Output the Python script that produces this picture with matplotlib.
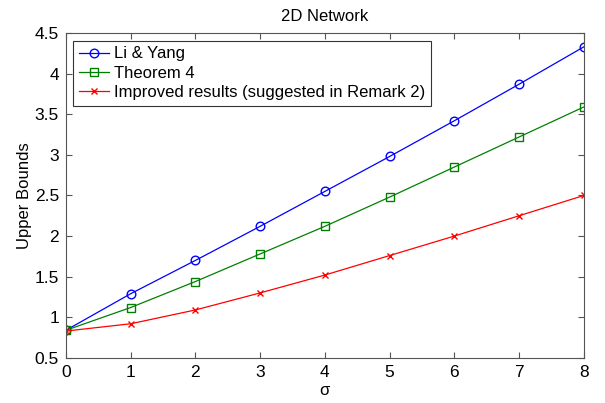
import matplotlib.pyplot as plt

plt.rcParams['font.family'] = ['Liberation Sans', 'DejaVu Sans']

sigma = [0, 1, 2, 3, 4, 5, 6, 7, 8]
li_yang = [0.84, 1.29, 1.70, 2.12, 2.55, 2.98, 3.42, 3.87, 4.33]
theorem4 = [0.84, 1.12, 1.44, 1.78, 2.12, 2.48, 2.85, 3.22, 3.59]
improved = [0.83, 0.92, 1.09, 1.30, 1.52, 1.76, 2.00, 2.25, 2.50]

fig = plt.figure(figsize=(6.05, 4.03), dpi=100)
ax = fig.add_axes([0.109, 0.112, 0.856, 0.806])

ax.plot(sigma, li_yang, color='#0000ff', marker='o', markersize=6.2,
        markerfacecolor='none', linewidth=0.9, label='Li & Yang')
ax.plot(sigma, theorem4, color='#008000', marker='s', markersize=6,
        markerfacecolor='none', linewidth=0.9, label='Theorem 4')
ax.plot(sigma, improved, color='#ff0000', marker='x', markersize=5,
        linewidth=0.9, label='Improved results (suggested in Remark 2)')

ax.set_xlim(0, 8)
ax.set_ylim(0.5, 4.5)
ax.set_xticks(range(0, 9))
ax.set_yticks([0.5, 1, 1.5, 2, 2.5, 3, 3.5, 4, 4.5])
ax.set_yticklabels(['0.5', '1', '1.5', '2', '2.5', '3', '3.5', '4', '4.5'])
ax.tick_params(direction='in', top=True, right=True, labelsize=12.5,
               length=4, color='#555555', pad=5)
for s in ax.spines.values():
    s.set_color('#555555')
    s.set_linewidth(0.8)

ax.set_title('2D Network', fontsize=12, pad=9)
ax.set_xlabel('σ', fontsize=12, labelpad=2)
ax.set_ylabel('Upper Bounds', fontsize=12, labelpad=2)

leg = ax.legend(loc='upper left', fontsize=12, fancybox=False,
                edgecolor='black', handlelength=1.8, handletextpad=0.3,
                borderpad=0.35, labelspacing=0.25, borderaxespad=0.45)
leg.get_frame().set_linewidth(0.8)

fig.savefig('out.png', dpi=100)
